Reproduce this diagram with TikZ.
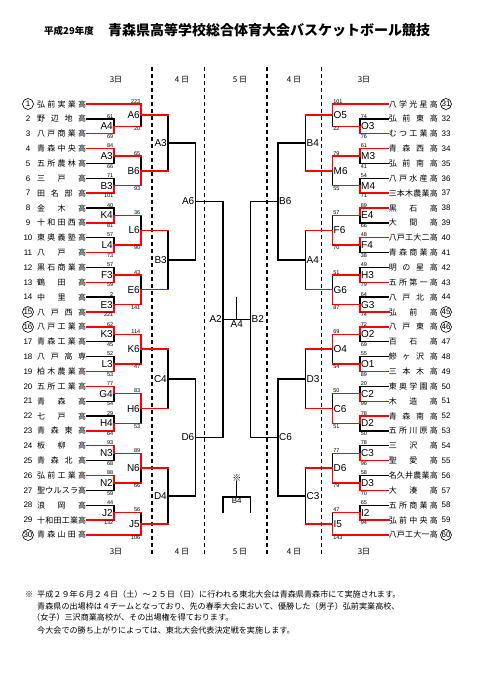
\documentclass[tikz,border=0pt]{standalone}
\usepackage{fontspec}
\setmainfont{Liberation Sans}
\newfontfamily\jp{Noto Sans CJK JP}
\usepackage{tikz}
\usetikzlibrary{positioning}

\newcommand{\ry}[1]{104+(#1-1)*14.86}
\newcommand{\spreadname}[1]{\makebox[49pt][s]{\spaceskip=0pt plus 1fil\relax #1}}

\begin{document}
\begin{tikzpicture}[x=1pt, y=-1pt,
    teamStyle/.style={inner sep=0pt, font=\jp\fontsize{8}{9}\selectfont},
    numStyle/.style={inner sep=0.5pt, font=\fontsize{8}{9}\selectfont},
    labelStyle/.style={inner sep=1pt, font=\fontsize{10}{10}\selectfont},
    scoreStyle/.style={inner sep=0.6pt, font=\fontsize{5.5}{6}\selectfont},
    dayStyle/.style={font=\jp\fontsize{8}{9}\selectfont},
    noteStyle/.style={anchor=west, inner sep=0pt, font=\jp\fontsize{8.1}{9}\selectfont},
    lineStyle/.style={line width=1.4pt, line cap=rect},
    winLine/.style={red, line width=1.4pt, line cap=rect},
    dashLine/.style={line width=1.4pt, dash pattern=on 4pt off 3pt}]

    \useasboundingbox (0,0) rectangle (481,680);

    % Title
    \node[font=\jp\bfseries\fontsize{9.5}{10}\selectfont] (year) at (69,31) {平成29年度};
    \node[font=\jp\bfseries\fontsize{14}{15}\selectfont] (title) at (269,30) {青森県高等学校総合体育大会バスケットボール競技};

    % Day columns
    \foreach \x [count=\i] in {152,204.5,267,321.5} {
        \coordinate (dTop\i) at (\x,67);
        \coordinate (dBot\i) at (\x,556);
        \draw[dashLine] (dTop\i) -- (dBot\i);
    }
    \foreach \x/\d [count=\i] in {116/3日,182/4 日,240/5 日,294/4 日,364/3日} {
        \node[dayStyle] (dayT\i) at (\x,80) {\d};
        \node[dayStyle] (dayB\i) at (\x,552) {\d};
    }

    % Left teams
    \foreach \n/\tn in {1/弘 前 実 業 高, 2/野 辺 地 高, 3/八 戸 商 業 高, 4/青 森 中 央 高,
        5/五 所 農 林 高, 6/三 戸 高, 7/田 名 部 高, 8/金 木 高, 9/十 和 田 西 高,
        10/東 奥 義 塾 高, 11/八 戸 高, 12/黒 石 商 業 高, 13/鶴 田 高, 14/中 里 高,
        15/八 戸 西 高, 16/八 戸 工 業 高, 17/青 森 工 業 高, 18/八 戸 高 専,
        19/柏 木 農 業 高, 20/五 所 工 業 高, 21/青 森 高, 22/七 戸 高, 23/青 森 東 高,
        24/板 柳 高, 25/青 森 北 高, 26/弘 前 工 業 高, 27/聖 ウ ル ス ラ 高, 28/浪 岡 高,
        29/十 和 田 工 業 高, 30/青 森 山 田 高} {
        \node[numStyle] (n\n) at (28,{\ry{\n}}) {\n};
        \node[teamStyle, anchor=west] (t\n) at (37,{\ry{\n}}) {\spreadname{\tn}};
    }

    % Right teams
    \foreach \n/\tn in {31/八 学 光 星 高, 32/弘 前 東 高, 33/む つ 工 業 高, 34/青 森 西 高,
        35/弘 前 南 高, 36/八 戸 水 産 高, 37/三 本 木 農 業 高, 38/黒 石 高, 39/大 間 高,
        40/八 戸 工 大 二 高, 41/青 森 商 業 高, 42/明 の 星 高, 43/五 所 第 一 高,
        44/八 戸 北 高, 45/弘 前 高, 46/八 戸 東 高, 47/百 石 高, 48/鰺 ヶ 沢 高,
        49/三 本 木 高, 50/東 奥 学 園 高, 51/木 造 高, 52/青 森 南 高, 53/五 所 川 原 高,
        54/三 沢 高, 55/聖 愛 高, 56/名 久 井 農 業 高, 57/大 湊 高, 58/五 所 商 業 高,
        59/弘 前 中 央 高, 60/八 戸 工 大 一 高} {
        \node[numStyle] (n\n) at (446,{\ry{\n-30}}) {\n};
        \node[teamStyle, anchor=east] (t\n) at (438,{\ry{\n-30}}) {\spreadname{\tn}};
    }

    % Seeds
    \foreach \n in {1,15,16,30,31,45,46,60}
        \draw[line width=0.6pt] (n\n) circle (5.5pt);

    % Left matches
    \foreach \m/\lb/\x/\r in {L1A4/A4/114/2.5, L1A3/A3/114/4.5, L1B3/B3/114/6.5,
        L1K4/K4/114/8.5, L1L4/L4/114/10.5, L1F3/F3/114/12.5, L1E3/E3/114/14.5,
        L1K3/K3/114/16.5, L1L3/L3/114/18.5, L1G4/G4/114/20.5, L1H4/H4/114/22.5,
        L1N3/N3/114/24.5, L1N2/N2/114/26.5, L1J2/J2/114/28.5,
        L2A6/A6/141/1.75, L2B6/B6/141/5.5, L2L6/L6/141/9.5, L2E6/E6/141/13.5,
        L2K6/K6/141/17.5, L2H6/H6/141/21.5, L2N6/N6/141/25.5, L2J5/J5/141/29.25,
        L3A3/A3/168/3.625, L3B3/B3/168/11.5, L3C4/C4/168/19.5, L3D4/D4/168/27.375,
        L4A6/A6/195.5/7.5625, L4D6/D6/195.5/23.4375, SA2/A2/223/15.5} {
        \coordinate (\m) at (\x,{\ry{\r}});
        \node[labelStyle, anchor=east] (l\m) at (\m) {\lb};
    }

    % Right matches
    \foreach \m/\lb/\x/\r in {R1O3/O3/360/2.5, R1M3/M3/360/4.5, R1M4/M4/360/6.5,
        R1E4/E4/360/8.5, R1F4/F4/360/10.5, R1H3/H3/360/12.5, R1G3/G3/360/14.5,
        R1O2/O2/360/16.5, R1O1/O1/360/18.5, R1C2/C2/360/20.5, R1D2/D2/360/22.5,
        R1C3/C3/360/24.5, R1D3/D3/360/26.5, R1I2/I2/360/28.5,
        R2O5/O5/332.5/1.75, R2M6/M6/332.5/5.5, R2F6/F6/332.5/9.5, R2G6/G6/332.5/13.5,
        R2O4/O4/332.5/17.5, R2C6/C6/332.5/21.5, R2D6/D6/332.5/25.5, R2I5/I5/332.5/29.25,
        R3B4/B4/305.5/3.625, R3A4/A4/305.5/11.5, R3D3/D3/305.5/19.5, R3C3/C3/305.5/27.375,
        R4B6/B6/278/7.5625, R4C6/C6/278/23.4375, SB2/B2/250.5/15.5} {
        \coordinate (\m) at (\x,{\ry{\r}});
        \node[labelStyle, anchor=west] (l\m) at (\m) {\lb};
    }

    % Bracket
    \foreach \m/\a/\b in {L1A4/t2/t3, L1A3/t4/t5, L1B3/t6/t7, L1K4/t8/t9, L1L4/t10/t11,
        L1F3/t12/t13, L1E3/t14/t15, L1K3/t16/t17, L1L3/t18/t19, L1G4/t20/t21,
        L1H4/t22/t23, L1N3/t24/t25, L1N2/t26/t27, L1J2/t28/t29,
        L2A6/t1/L1A4, L2B6/L1A3/L1B3, L2L6/L1K4/L1L4, L2E6/L1F3/L1E3,
        L2K6/L1K3/L1L3, L2H6/L1G4/L1H4, L2N6/L1N3/L1N2, L2J5/L1J2/t30,
        L3A3/L2A6/L2B6, L3B3/L2L6/L2E6, L3C4/L2K6/L2H6, L3D4/L2N6/L2J5,
        L4A6/L3A3/L3B3, L4D6/L3C4/L3D4, SA2/L4A6/L4D6,
        R1O3/t32/t33, R1M3/t34/t35, R1M4/t36/t37, R1E4/t38/t39, R1F4/t40/t41,
        R1H3/t42/t43, R1G3/t44/t45, R1O2/t46/t47, R1O1/t48/t49, R1C2/t50/t51,
        R1D2/t52/t53, R1C3/t54/t55, R1D3/t56/t57, R1I2/t58/t59,
        R2O5/t31/R1O3, R2M6/R1M3/R1M4, R2F6/R1E4/R1F4, R2G6/R1H3/R1G3,
        R2O4/R1O2/R1O1, R2C6/R1C2/R1D2, R2D6/R1C3/R1D3, R2I5/R1I2/t60,
        R3B4/R2O5/R2M6, R3A4/R2F6/R2G6, R3D3/R2O4/R2C6, R3C3/R2D6/R2I5,
        R4B6/R3B4/R3A4, R4C6/R3D3/R3C3, SB2/R4B6/R4C6} {
        \draw[lineStyle] (\a) -| (\m);
        \draw[lineStyle] (\b) -| (\m);
    }

    % Final
    \coordinate (FA4) at (236.75,{\ry{15.5}});
    \coordinate (FA4t) at (236.75,298);
    \draw[lineStyle] (SA2) -- (SB2);
    \draw[lineStyle] (FA4) -- (FA4t);
    \node[labelStyle, anchor=north] (lFA4) at (FA4) {A4};

    % Winners, out in round 2
    \foreach \a/\m/\p in {t3/L1A4/L2A6, t4/L1A3/L2B6, t9/L1K4/L2L6, t13/L1F3/L2E6,
        t19/L1L3/L2K6, t23/L1H4/L2H6, t26/L1N2/L2N6, t29/L1J2/L2J5,
        t1/L2A6/L3A3, t30/L2J5/L3D4,
        t33/R1O3/R2O5, t37/R1M4/R2M6, t38/R1E4/R2F6, t43/R1H3/R2G6,
        t49/R1O1/R2O4, t51/R1C2/R2C6, t55/R1C3/R2D6, t59/R1I2/R2I5,
        t31/R2O5/R3B4, t60/R2I5/R3C3}
        \draw[winLine] (\a) -| (\m) -- (\m -| \p);

    % Winners, through round 2
    \foreach \a/\m/\p/\q in {t7/L1B3/L2B6/L3A3, t11/L1L4/L2L6/L3B3, t15/L1E3/L2E6/L3B3,
        t16/L1K3/L2K6/L3C4, t20/L1G4/L2H6/L3C4, t24/L1N3/L2N6/L3D4,
        t34/R1M3/R2M6/R3B4, t40/R1F4/R2F6/R3A4, t45/R1G3/R2G6/R3A4,
        t46/R1O2/R2O4/R3D3, t52/R1D2/R2C6/R3D3, t57/R1D3/R2D6/R3C3}
        \draw[winLine] (\a) -| (\m) -| (\p) -- (\p -| \q);

    % Scores
    \foreach \a/\m/\v [count=\i] in {t2/L1A4/61, t4/L1A3/84, t6/L1B3/71, t8/L1K4/40,
        t10/L1L4/57, t12/L1F3/57, t14/L1E3/2, t16/L1K3/62, t18/L1L3/52, t20/L1G4/77,
        t22/L1H4/29, t24/L1N3/93, t26/L1N2/88, t28/L1J2/44,
        t1/L2A6/223, L1A3/L2B6/65, L1K4/L2L6/36, L1F3/L2E6/43, L1K3/L2K6/114,
        L1G4/L2H6/83, L1N3/L2N6/89, L1J2/L2J5/56}
        \node[scoreStyle, anchor=south east] (sLt\i) at (\a -| \m) {\v};
    \foreach \a/\m/\v [count=\i] in {t3/L1A4/69, t5/L1A3/66, t7/L1B3/101, t9/L1K4/81,
        t11/L1L4/73, t13/L1F3/59, t15/L1E3/221, t17/L1K3/45, t19/L1L3/53, t21/L1G4/54,
        t23/L1H4/64, t25/L1N3/68, t27/L1N2/59, t29/L1J2/132,
        L1A4/L2A6/20, L1B3/L2B6/93, L1L4/L2L6/90, L1E3/L2E6/141, L1L3/L2K6/47,
        L1H4/L2H6/53, L1N2/L2N6/66, t30/L2J5/106}
        \node[scoreStyle, anchor=north east] (sLb\i) at (\a -| \m) {\v};
    \foreach \a/\m/\v [count=\i] in {t32/R1O3/74, t34/R1M3/61, t36/R1M4/54, t38/R1E4/89,
        t40/R1F4/48, t42/R1H3/49, t44/R1G3/64, t46/R1O2/72, t48/R1O1/55, t50/R1C2/20,
        t52/R1D2/78, t54/R1C3/78, t56/R1D3/58, t58/R1I2/65,
        t31/R2O5/101, R1M3/R2M6/79, R1E4/R2F6/57, R1H3/R2G6/51, R1O2/R2O4/69,
        R1C2/R2C6/50, R1C3/R2D6/77, R1I2/R2I5/47}
        \node[scoreStyle, anchor=south west] (sRt\i) at (\a -| \m) {\v};
    \foreach \a/\m/\v [count=\i] in {t33/R1O3/76, t35/R1M3/41, t37/R1M4/71, t39/R1E4/66,
        t41/R1F4/38, t43/R1H3/79, t45/R1G3/74, t47/R1O2/69, t49/R1O1/89, t51/R1C2/99,
        t53/R1D2/50, t55/R1C3/96, t57/R1D3/70, t59/R1I2/94,
        R1O3/R2O5/22, R1M4/R2M6/55, R1F4/R2F6/70, R1G3/R2G6/87, R1O1/R2O4/54,
        R1D2/R2C6/51, R1D3/R2D6/79, t60/R2I5/143}
        \node[scoreStyle, anchor=north west] (sRb\i) at (\a -| \m) {\v};

    % Extra game
    \coordinate (B4top) at (236.75,482);
    \coordinate (B4mid) at (236.75,497);
    \coordinate (B4l) at (223,512);
    \coordinate (B4r) at (250.5,512);
    \draw[lineStyle] (B4top) -- (B4mid);
    \draw[lineStyle] (B4l) |- (B4mid) -| (B4r);
    \node[inner sep=1pt, font=\fontsize{8}{8}\selectfont, below=0pt of B4mid] (lB4) {B4};
    \node[inner sep=0pt, font=\jp\fontsize{9}{9}\selectfont, above=0.5pt of B4top] (B4mark) {※};

    % Note
    \node[noteStyle] (noteMark) at (25,594) {※};
    \node[noteStyle] (note1) at (37,594) {平成２９年６月２４日（土）～２５日（日）に行われる東北大会は青森県青森市にて実施されます。};
    \node[noteStyle] (note2) at (37,606) {青森県の出場枠は４チームとなっており、先の春季大会において、優勝した（男子）弘前実業高校、};
    \node[noteStyle] (note3) at (32,617) {（女子）三沢商業高校が、その出場権を得ております。};
    \node[noteStyle] (note4) at (37,630) {今大会での勝ち上がりによっては、東北大会代表決定戦を実施します。};

\end{tikzpicture}
\end{document}
